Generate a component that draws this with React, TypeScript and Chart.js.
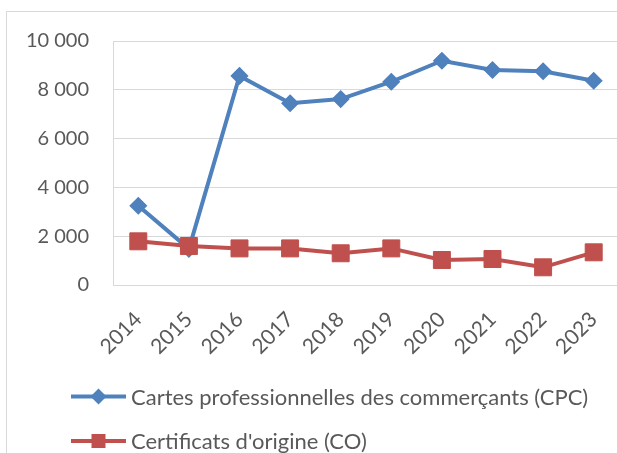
import React, { useEffect, useRef } from "react";
import { Chart, registerables } from "chart.js";

Chart.register(...registerables);

const years = ["2014", "2015", "2016", "2017", "2018", "2019", "2020", "2021", "2022", "2023"];
const cpcValues = [3250, 1480, 8570, 7450, 7620, 8330, 9190, 8810, 8760, 8370];
const coValues = [1790, 1600, 1500, 1500, 1300, 1500, 1025, 1065, 725, 1340];
const seriesLabels = ["Cartes professionnelles des commerçants (CPC)", "Certificats d'origine (CO)"];
const yTicks = [0, 2000, 4000, 6000, 8000, 10000];

const BLUE = "#4F81BD";
const RED = "#C0504D";
const TEXT = "#595959";
const GRID = "#d9d9d9";
const FONT = "Lato, 'Open Sans', sans-serif";

const fmt = (v: number) => String(v).replace(/\B(?=(\d{3})+(?!\d))/g, " ");

const legendPlugin = {
  id: "lineLegend",
  afterDraw(chart: any) {
    const ctx = chart.ctx;
    const rows = [384.5, 429];
    chart.data.datasets.forEach((ds: any, i: number) => {
      const y = rows[i];
      const x0 = 64;
      const x1 = 119;
      const cx = (x0 + x1) / 2;
      ctx.save();
      ctx.strokeStyle = ds.borderColor;
      ctx.lineWidth = 4;
      ctx.beginPath();
      ctx.moveTo(x0, y);
      ctx.lineTo(x1, y);
      ctx.stroke();
      ctx.fillStyle = ds.pointBackgroundColor;
      ctx.beginPath();
      if (ds.pointStyle === "rectRot") {
        const r = 8;
        ctx.moveTo(cx - r, y);
        ctx.lineTo(cx, y - r);
        ctx.lineTo(cx + r, y);
        ctx.lineTo(cx, y + r);
        ctx.closePath();
      } else {
        const h = 7;
        ctx.rect(cx - h, y - h, 2 * h, 2 * h);
      }
      ctx.fill();
      ctx.fillStyle = TEXT;
      ctx.font = `22px ${FONT}`;
      ctx.textBaseline = "middle";
      ctx.textAlign = "left";
      ctx.fillText(ds.label, 124, y + 1);
      ctx.restore();
    });
  },
};

export default function App() {
  const ref = useRef<HTMLCanvasElement | null>(null);

  useEffect(() => {
    if (!ref.current) return;
    const chart = new Chart(ref.current, {
      type: "line",
      data: {
        labels: years,
        datasets: [
          {
            label: seriesLabels[0],
            data: cpcValues,
            borderColor: BLUE,
            backgroundColor: BLUE,
            pointBackgroundColor: BLUE,
            pointBorderColor: BLUE,
            pointStyle: "rectRot",
            pointRadius: 8,
            pointBorderWidth: 1.5,
            borderWidth: 4,
            tension: 0,
            order: 1,
          },
          {
            label: seriesLabels[1],
            data: coValues,
            borderColor: RED,
            backgroundColor: RED,
            pointBackgroundColor: RED,
            pointBorderColor: RED,
            pointStyle: "rect",
            pointRadius: 12,
            pointBorderWidth: 1,
            borderWidth: 4,
            tension: 0,
            order: 0,
          },
        ],
      },
      options: {
        animation: false,
        responsive: false,
        maintainAspectRatio: false,
        layout: { padding: { left: 0, top: 29, right: 28, bottom: 97 } },
        plugins: {
          legend: { display: false },
          tooltip: { enabled: false },
        },
        scales: {
          x: {
            offset: true,
            grid: { display: false, drawTicks: false },
            border: { display: true, color: GRID, width: 1 },
            ticks: {
              autoSkip: false,
              maxRotation: 45,
              minRotation: 45,
              padding: 22,
              color: TEXT,
              font: { family: FONT, size: 21 },
            },
            afterFit: (s: any) => {
              s.height = 90;
              s.paddingTop = 0;
              s.paddingBottom = 0;
            },
          },
          y: {
            min: 0,
            max: 10000,
            afterBuildTicks: (s: any) => {
              s.ticks = yTicks.map((v) => ({ value: v }));
            },
            grid: { color: GRID, lineWidth: 1, drawTicks: false },
            border: { display: true, color: GRID, width: 1 },
            ticks: {
              padding: 24,
              color: TEXT,
              font: { family: FONT, size: 20 },
              callback: (v: any) => fmt(Number(v)),
            },
            afterFit: (s: any) => {
              s.width = 106;
              s.paddingTop = 0;
              s.paddingBottom = 0;
            },
          },
        },
      },
      plugins: [legendPlugin],
    });
    return () => chart.destroy();
  }, []);

  return (
    <div style={{ position: "fixed", left: 0, top: 0, width: 617, height: 453, overflow: "hidden", background: "#fff" }}>
      <div style={{ position: "absolute", left: 6, top: 11, border: `1px solid ${GRID}`, width: 640, height: 460 }}>
        <canvas ref={ref} width={640} height={460} style={{ display: "block", width: 640, height: 460 }} />
      </div>
    </div>
  );
}
